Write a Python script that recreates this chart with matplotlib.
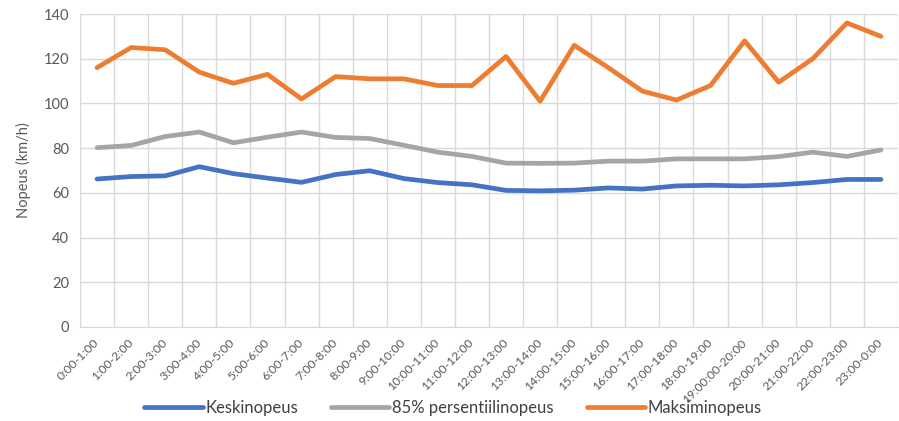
import matplotlib
matplotlib.use("Agg")
import matplotlib.pyplot as plt
import numpy as np
from matplotlib.transforms import ScaledTranslation

categories = ["0:00-1:00", "1:00-2:00", "2:00-3:00", "3:00-4:00", "4:00-5:00", "5:00-6:00",
              "6:00-7:00", "7:00-8:00", "8:00-9:00", "9:00-10:00", "10:00-11:00", "11:00-12:00",
              "12:00-13:00", "13:00-14:00", "14:00-15:00", "15:00-16:00", "16:00-17:00",
              "17:00-18:00", "18:00-19:00", "19:00:00-20:00", "20:00-21:00", "21:00-22:00",
              "22:00-23:00", "23:00-0:00"]
keskinopeus = [66.2, 67.3, 67.6, 71.7, 68.6, 66.6, 64.7, 68.2, 69.9, 66.4, 64.6, 63.6,
               61.1, 60.9, 61.2, 62.2, 61.7, 63.1, 63.4, 63.1, 63.6, 64.6, 66.0, 66.0]
persentiili85 = [80.2, 81.2, 85.2, 87.2, 82.4, 84.9, 87.2, 84.8, 84.3, 81.3, 78.2, 76.3,
                 73.3, 73.2, 73.3, 74.2, 74.2, 75.2, 75.2, 75.2, 76.2, 78.2, 76.3, 79.2]
maksiminopeus = [116, 125, 124, 114, 109, 113, 102, 112, 111, 111, 108, 108,
                 121, 101, 126, 116, 105.5, 101.5, 108, 128, 109.5, 120, 136, 130]
series_names = ["Keskinopeus", "85% persentiilinopeus", "Maksiminopeus"]
colors = ["#4472C4", "#A5A5A5", "#ED7D31"]
y_ticks = [0, 20, 40, 60, 80, 100, 120, 140]

plt.rcParams['font.family'] = ['Lato', 'DejaVu Sans']

fig = plt.figure(figsize=(8.99, 4.21), dpi=100)
ax = fig.add_axes([80/899, 94/421, 818/899, 313/421])

x = np.arange(len(categories))
for vals, name, c in zip([keskinopeus, persentiili85, maksiminopeus], series_names, colors):
    ax.plot(x, vals, color=c, lw=3.4, label=name, solid_capstyle='round', solid_joinstyle='round', zorder=3)

ax.set_xlim(-0.5, len(categories) - 0.5)
ax.set_ylim(0, 140)
ax.set_yticks(y_ticks)
ax.set_xticks(x)
ax.set_xticklabels(categories, rotation=45, ha='right', va='center', rotation_mode='anchor',
                   fontsize=8.8, color='#595959')
offset = ScaledTranslation(5/100, 0, fig.dpi_scale_trans)
for lbl in ax.get_xticklabels():
    lbl.set_transform(lbl.get_transform() + offset)
ax.set_xticks(np.arange(-0.5, len(categories), 1), minor=True)
ax.tick_params(axis='x', which='major', length=0, pad=10)
ax.tick_params(axis='x', which='minor', length=0)
ax.tick_params(axis='y', length=0, labelsize=10.5, labelcolor='#595959', pad=8)
ax.grid(True, which='minor', axis='x', color='#D9D9D9', lw=1.0)
ax.grid(True, which='major', axis='y', color='#D9D9D9', lw=1.0)
ax.set_axisbelow(True)
for s in ['top', 'right', 'left']:
    ax.spines[s].set_visible(False)
ax.spines['bottom'].set_color('#D9D9D9')
ax.set_ylabel("Nopeus (km/h)", fontsize=10.5, color='#595959', labelpad=9)

fig.legend(loc='center', bbox_to_anchor=(453/899, 1 - 408/421), ncol=3, frameon=False,
           fontsize=12, handlelength=3.5, columnspacing=2.0, handletextpad=0.15,
           labelcolor='#404040')

fig.savefig("out.png", dpi=100)
